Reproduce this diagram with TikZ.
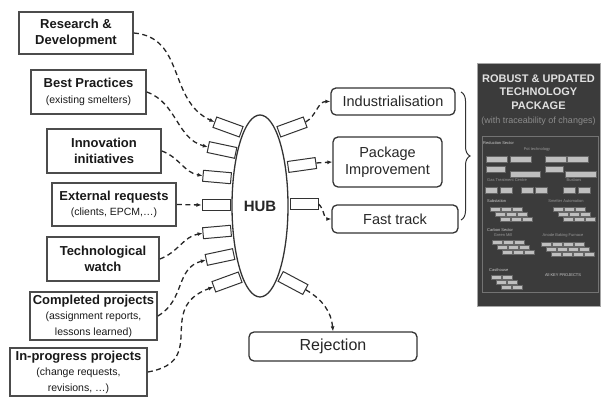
\documentclass[tikz,border=0pt]{standalone}
\usepackage{fontspec}
\setmainfont{Liberation Sans}
\usetikzlibrary{arrows.meta,positioning,shapes.geometric,decorations.pathreplacing}

\newcommand{\subtxt}[1]{{\fontsize{10.5}{12.5}\selectfont\mdseries #1}}
\newcommand{\pkgfont}{\fontsize{4}{4.5}\selectfont}

\begin{document}
\begin{tikzpicture}[x=1pt, y=1pt,
  source/.style={draw=black!70, line width=1.7pt, align=center, inner sep=2pt, text=black!90, font=\fontsize{13}{15.5}\selectfont\bfseries},
  outcome/.style={draw=black!80, line width=1.3pt, rounded corners=5pt, align=center, inner sep=2pt, text=black!85, font=\fontsize{14.5}{17}\selectfont},
  port/.style={draw=black!80, line width=1pt, fill=white, minimum width=28pt, minimum height=11pt, inner sep=0pt},
  feed/.style={draw=black!85, line width=1.3pt, dash pattern=on 5pt off 3.5pt, -{Latex[length=5pt,width=4pt]}},
  minibox/.style={fill=black!25, draw=black!60, line width=0.3pt},
  pkghead/.style={font=\pkgfont, text=white!80!black, inner sep=0pt},
  pkgitem/.style={font=\pkgfont, text=black!40, inner sep=0pt}
]
\useasboundingbox (0,0) rectangle (602,398);

% inputs
\node[source, minimum width=114pt, minimum height=42pt] (rd) at (76,365) {Research \&\\Development};
\node[source, minimum width=115pt, minimum height=44pt] (bp) at (88.5,306) {Best Practices\\\subtxt{(existing smelters)}};
\node[source, minimum width=114pt, minimum height=44pt] (innov) at (104,247) {Innovation\\initiatives};
\node[source, minimum width=124pt, minimum height=43pt] (ext) at (114,193.5) {External requests\\\subtxt{(clients, EPCM,\ldots)}};
\node[source, minimum width=112pt, minimum height=44pt] (watch) at (103,139) {Technological\\watch};
\node[source, minimum width=127pt, minimum height=48pt] (done) at (93.5,82) {Completed projects\\\subtxt{(assignment reports,}\\\subtxt{lessons learned)}};
\node[source, minimum width=137pt, minimum height=48pt] (wip) at (78.5,26) {In-progress projects\\\subtxt{(change requests,}\\\subtxt{revisions, \ldots)}};

% ports round the hub
\node[port, rotate=-20] (l1) at (228,271) {};
\node[port, rotate=-12] (l2) at (222,248) {};
\node[port, rotate=-5] (l3) at (217,221) {};
\node[port] (l4) at (216,193) {};
\node[port, rotate=5] (l5) at (217,166) {};
\node[port, rotate=12] (l6) at (220,141) {};
\node[port, rotate=20] (l7) at (227,116) {};
\node[port, rotate=20] (r1) at (292,271) {};
\node[port, rotate=8] (r2) at (302,233) {};
\node[port] (r3) at (304,194) {};
\node[port, rotate=-28] (r4) at (293,115) {};
\node[draw=black!80, line width=1.3pt, fill=white, ellipse, minimum width=56pt, minimum height=182pt, inner sep=0pt, font=\fontsize{15}{18}\selectfont\bfseries, text=black!85] (hub) at (260,192) {HUB};

% outputs
\node[outcome, minimum width=124pt, minimum height=27pt] (indus) at (393,296.5) {Industrialisation};
\node[outcome, minimum width=109pt, minimum height=50pt] (pkgimp) at (387.5,236) {Package\\Improvement};
\node[outcome, minimum width=126pt, minimum height=28pt] (fast) at (395,179) {Fast track};
\node[outcome, minimum width=168pt, minimum height=29pt, font=\fontsize{16}{18}\selectfont] (reject) at (333,51.5) {Rejection};

\draw[feed] (rd.east) to[out=-5, in=155, looseness=1.1] (l1.west);
\draw[feed] (bp.east) to[out=-20, in=165] (l2.west);
\draw[feed] (innov.east) to[out=-20, in=170] (l3.west);
\draw[feed] (ext.east) -- (l4.west);
\draw[feed] (watch.east) to[out=20, in=190] (l5.west);
\draw[feed] (done.east) to[out=30, in=195, looseness=1.1] (l6.west);
\draw[feed] (wip.east) to[out=10, in=200, looseness=1.5] (l7.west);
\draw[feed] (r1.east) to[out=30, in=180] (indus.west);
\draw[feed] (r2.east) -- (pkgimp.west);
\draw[feed] (r3.east) to[out=-40, in=180] (fast.west);
\draw[feed] (r4.east) to[out=-30, in=95] (reject.north);

\draw[decorate, decoration={brace, amplitude=9pt}, draw=black!80, line width=1pt] (461,306) -- (461,178);

% technology package
\node[draw=black!35, line width=1pt, fill=black!77, minimum width=123pt, minimum height=243pt, inner sep=0pt] (pkg) at (538.5,212.5) {};
\node[align=center, text=white!88!black, font=\fontsize{11}{13.5}\selectfont\bfseries] (pkgtitle) at (538.5,306) {ROBUST \& UPDATED\\TECHNOLOGY\\PACKAGE};
\node[below=1pt of pkgtitle, text=black!45, font=\fontsize{9}{11}\selectfont] (pkgsub) {(with traceability of changes)};
\draw[black!55, line width=0.6pt] (482,106) rectangle (598,262);

\node[pkghead, anchor=west] (red) at (483,255) {Reduction Sector};
\node[pkgitem] (pot) at (537,249) {Pot technology};
\node[pkgitem, anchor=west] (gtc) at (487,218) {Gas Treatment Centre};
\node[pkgitem] (bus) at (574,218) {Busbars};
\node[pkghead, anchor=west] (subst) at (487,197) {Substation};
\node[pkgitem] (autom) at (566,197) {Smelter Automation};
\node[pkghead, anchor=west] (carb) at (487,168) {Carbon Sector};
\node[pkgitem] (gmill) at (503,163) {Green Mill};
\node[pkgitem] (abf) at (563,163) {Anode Baking Furnace};
\node[pkghead, anchor=west] (cast) at (489,128) {Casthouse};
\node[pkghead] (keyp) at (563,123) {All KEY PROJECTS};

\foreach \x/\y/\w in {486/236/21, 510/236/21, 545/236/21, 567/236/21, 486/226/19, 545/226/18, 510/221/30, 565/221/31,
  485/205/12, 500/205/12, 521/205/12, 535/205/12, 563/205/12, 578/205/12}
  \draw[minibox] (\x,\y) rectangle ++(\w,5.5);
\foreach \gx/\gy/\n in {490/191/3, 553/191/3, 492/158/3, 541/156/4, 491/123/2}
  \foreach \r in {0,1,2}
    \foreach \c in {1,...,\n}
      \draw[minibox] (\gx+\r*5+\c*11-11, \gy-\r*5) rectangle ++(10,-4.5);
\end{tikzpicture}
\end{document}
